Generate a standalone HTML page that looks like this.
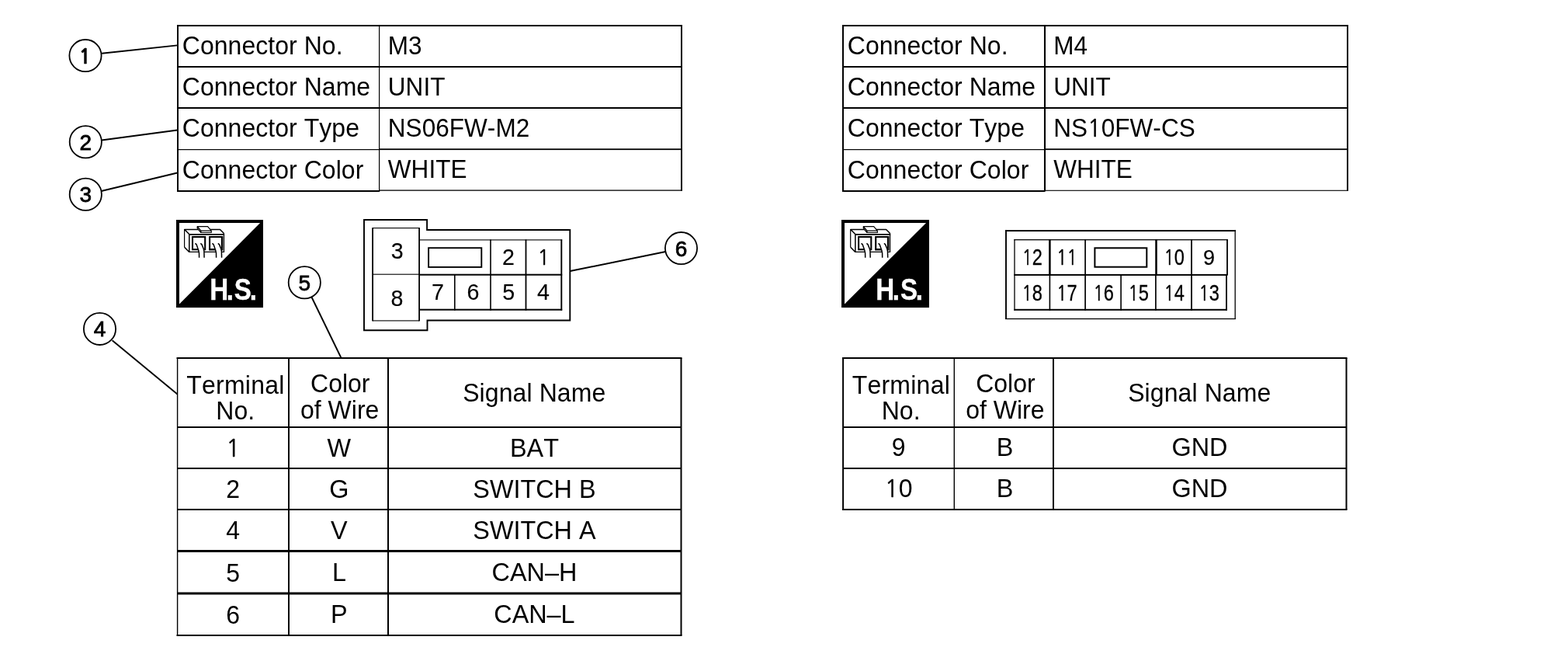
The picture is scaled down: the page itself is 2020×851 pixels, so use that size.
<!DOCTYPE html>
<html lang="en"><head><meta charset="utf-8"><title>Connector M3 / M4</title>
<style>html,body{margin:0;padding:0;background:#fff;}body{width:2020px;height:851px;overflow:hidden;}svg{display:block;will-change:transform;}text{font-kerning:none;stroke:none;white-space:pre;}.n{font-family:"NanumGothic","Liberation Sans",sans-serif;stroke:#000;stroke-width:0.5px;}</style>
</head><body>
<svg width="2020" height="851" viewBox="0 0 2020 851" font-family='"Liberation Sans", sans-serif' fill="#000" stroke="none">
<rect x="0" y="0" width="2020" height="851" fill="#fff"/>
<g stroke="#000" fill="none" stroke-linecap="butt">
<line x1="131.1" y1="68.8" x2="228.5" y2="58.4" stroke-width="1.9" />
<line x1="131" y1="180.5" x2="228.5" y2="167.5" stroke-width="1.9" />
<line x1="130.5" y1="246" x2="228.5" y2="222.5" stroke-width="1.9" />
<line x1="144.6" y1="438.3" x2="228.5" y2="507.5" stroke-width="1.9" />
<line x1="401.2" y1="382" x2="439.6" y2="461" stroke-width="1.9" />
<line x1="734.5" y1="349" x2="857.5" y2="324" stroke-width="1.9" />
</g>
<g stroke="#000">
<rect x="228" y="32.00" width="651.00" height="2" fill="#000" stroke="none"/>
<rect x="228.00" y="33" width="2" height="212.50" fill="#000" stroke="none"/>
<rect x="877.00" y="33" width="2" height="212.50" fill="#000" stroke="none"/>
<rect x="228" y="245.00" width="261.20" height="2" fill="#000" stroke="none"/>
<rect x="488.6" y="244.45" width="390.40" height="1.3" fill="#000" stroke="none"/>
<rect x="229" y="85.00" width="649.00" height="2" fill="#000" stroke="none"/>
<rect x="229" y="138.00" width="649.00" height="2" fill="#000" stroke="none"/>
<rect x="229" y="192.00" width="259.60" height="1.2" fill="#000" stroke="none"/>
<rect x="488.6" y="191.30" width="389.40" height="1.8" fill="#000" stroke="none"/>
<rect x="488.00" y="33" width="1.2" height="212.50" fill="#000" stroke="none"/>
<text transform="translate(234.8,70) scale(1,1.02)" font-size="32" letter-spacing="0.04" >Connector No.</text>
<text transform="translate(499.8,70) scale(0.985,1.02)" font-size="32" letter-spacing="0.04" >M3</text>
<text transform="translate(234.8,123.1) scale(1,1.02)" font-size="32" letter-spacing="0.04" >Connector Name</text>
<text transform="translate(499.8,123.1) scale(0.985,1.02)" font-size="32" letter-spacing="0.04" >UNIT</text>
<text transform="translate(234.8,176.2) scale(1,1.02)" font-size="32" letter-spacing="0.04" >Connector Type</text>
<text transform="translate(499.8,176.1) scale(0.985,1.02)" font-size="32" letter-spacing="0.04" >NS06FW-M2</text>
<text transform="translate(234.8,229.7) scale(1,1.02)" font-size="32" letter-spacing="0.04" >Connector Color</text>
<text transform="translate(499.8,228.9) scale(0.985,1.02)" font-size="32" letter-spacing="0.04" >WHITE</text>
<rect x="1085" y="32.00" width="652.00" height="2" fill="#000" stroke="none"/>
<rect x="1085.00" y="33" width="2" height="212.50" fill="#000" stroke="none"/>
<rect x="1735.00" y="33" width="2" height="212.50" fill="#000" stroke="none"/>
<rect x="1085" y="245.00" width="261.60" height="2" fill="#000" stroke="none"/>
<rect x="1346" y="244.75" width="391.00" height="1.1" fill="#000" stroke="none"/>
<rect x="1086" y="85.00" width="650.00" height="2" fill="#000" stroke="none"/>
<rect x="1086" y="138.00" width="650.00" height="2" fill="#000" stroke="none"/>
<rect x="1086" y="192.00" width="260.00" height="1.2" fill="#000" stroke="none"/>
<rect x="1346" y="191.30" width="390.00" height="1.8" fill="#000" stroke="none"/>
<rect x="1344.95" y="33" width="2.1" height="212.50" fill="#000" stroke="none"/>
<text transform="translate(1091.8,70) scale(1,1.02)" font-size="32" letter-spacing="0.04" >Connector No.</text>
<text transform="translate(1357.2,70) scale(0.985,1.02)" font-size="32" letter-spacing="0.04" >M4</text>
<text transform="translate(1091.8,123.1) scale(1,1.02)" font-size="32" letter-spacing="0.04" >Connector Name</text>
<text transform="translate(1357.2,123.1) scale(0.985,1.02)" font-size="32" letter-spacing="0.04" >UNIT</text>
<text transform="translate(1091.8,176.2) scale(1,1.02)" font-size="32" letter-spacing="0.04" >Connector Type</text>
<text transform="translate(1357.2,176.1) scale(0.985,1.02)" font-size="32" letter-spacing="0.04" >NS<tspan class="n" font-size="0.922em">1</tspan>0FW-CS</text>
<text transform="translate(1091.8,229.7) scale(1,1.02)" font-size="32" letter-spacing="0.04" >Connector Color</text>
<text transform="translate(1357.2,228.9) scale(0.985,1.02)" font-size="32" letter-spacing="0.04" >WHITE</text>
<rect x="227.5" y="460.00" width="651.00" height="2" fill="#000" stroke="none"/>
<rect x="227.5" y="817.00" width="651.00" height="2" fill="#000" stroke="none"/>
<rect x="227.90" y="461" width="1.4" height="357.00" fill="#000" stroke="none"/>
<rect x="876.50" y="461" width="2" height="357.00" fill="#000" stroke="none"/>
<rect x="228.5" y="549.00" width="649.00" height="2" fill="#000" stroke="none"/>
<rect x="228.5" y="602.00" width="649.00" height="2" fill="#000" stroke="none"/>
<rect x="228.5" y="655.00" width="649.00" height="2" fill="#000" stroke="none"/>
<rect x="228.5" y="708.00" width="649.00" height="3" fill="#000" stroke="none"/>
<rect x="228.5" y="762.50" width="649.00" height="3" fill="#000" stroke="none"/>
<rect x="371.00" y="461" width="2" height="357.00" fill="#000" stroke="none"/>
<rect x="499.00" y="461" width="2" height="357.00" fill="#000" stroke="none"/>
<text transform="translate(303.45,506.6) scale(1,1.02)" font-size="32" text-anchor="middle" letter-spacing="0.25" >Terminal</text>
<text transform="translate(303.25,540) scale(1,1.02)" font-size="32" text-anchor="middle" >No.</text>
<text transform="translate(438.3,505.1) scale(1,1.02)" font-size="32" text-anchor="middle" >Color</text>
<text transform="translate(437.7,538.5) scale(1,1.02)" font-size="32" text-anchor="middle" >of Wire</text>
<text transform="translate(688.25,517) scale(1,1.02)" font-size="32" text-anchor="middle" letter-spacing="0.1" >Signal Name</text>
<text transform="translate(300.25,587.7) scale(1,1.03)" font-size="32" text-anchor="middle" ><tspan class="n" font-size="0.922em">1</tspan></text>
<text transform="translate(436.9,587.7) scale(1.012,1.02)" font-size="32" text-anchor="middle" >W</text>
<text transform="translate(688.45,587.7) scale(1.012,1.02)" font-size="32" text-anchor="middle" >BAT</text>
<text transform="translate(300.25,640.6) scale(1,1.03)" font-size="32" text-anchor="middle" >2</text>
<text transform="translate(436.9,640.6) scale(1.012,1.02)" font-size="32" text-anchor="middle" >G</text>
<text transform="translate(688.45,640.6) scale(1.012,1.02)" font-size="32" text-anchor="middle" >SWITCH B</text>
<text transform="translate(300.25,694) scale(1,1.03)" font-size="32" text-anchor="middle" >4</text>
<text transform="translate(436.9,694) scale(1.012,1.02)" font-size="32" text-anchor="middle" >V</text>
<text transform="translate(688.45,694) scale(1.012,1.02)" font-size="32" text-anchor="middle" >SWITCH A</text>
<text transform="translate(300.25,748.5) scale(1,1.03)" font-size="32" text-anchor="middle" >5</text>
<text transform="translate(436.9,748.1) scale(1.012,1.02)" font-size="32" text-anchor="middle" >L</text>
<text transform="translate(688.45,748.1) scale(1.012,1.02)" font-size="32" text-anchor="middle" >CAN–H</text>
<text transform="translate(300.25,802.6999999999999) scale(1,1.03)" font-size="32" text-anchor="middle" >6</text>
<text transform="translate(436.9,802.3) scale(1.012,1.02)" font-size="32" text-anchor="middle" >P</text>
<text transform="translate(688.45,802.3) scale(1.012,1.02)" font-size="32" text-anchor="middle" >CAN–L</text>
<rect x="1085" y="460.00" width="650.50" height="2" fill="#000" stroke="none"/>
<rect x="1085" y="655.00" width="650.50" height="2" fill="#000" stroke="none"/>
<rect x="1085.10" y="461" width="2" height="195.00" fill="#000" stroke="none"/>
<rect x="1733.50" y="461" width="2" height="195.00" fill="#000" stroke="none"/>
<rect x="1086" y="549.00" width="648.50" height="2" fill="#000" stroke="none"/>
<rect x="1086" y="602.00" width="648.50" height="2" fill="#000" stroke="none"/>
<rect x="1228.60" y="461" width="1.4" height="195.00" fill="#000" stroke="none"/>
<rect x="1356.00" y="461" width="2" height="195.00" fill="#000" stroke="none"/>
<text transform="translate(1160.8500000000001,506.6) scale(1,1.02)" font-size="32" text-anchor="middle" letter-spacing="0.25" >Terminal</text>
<text transform="translate(1160.65,540) scale(1,1.02)" font-size="32" text-anchor="middle" >No.</text>
<text transform="translate(1295.45,505.1) scale(1,1.02)" font-size="32" text-anchor="middle" >Color</text>
<text transform="translate(1294.8500000000001,538.5) scale(1,1.02)" font-size="32" text-anchor="middle" >of Wire</text>
<text transform="translate(1545.25,517) scale(1,1.02)" font-size="32" text-anchor="middle" letter-spacing="0.1" >Signal Name</text>
<text transform="translate(1157.65,587.1) scale(1,1.03)" font-size="32" text-anchor="middle" >9</text>
<text transform="translate(1294.65,587.1) scale(1.012,1.02)" font-size="32" text-anchor="middle" >B</text>
<text transform="translate(1545.45,587.1) scale(1.012,1.02)" font-size="32" text-anchor="middle" >GND</text>
<text transform="translate(1157.65,640.0) scale(1,1.03)" font-size="32" text-anchor="middle" ><tspan class="n" font-size="0.922em">1</tspan>0</text>
<text transform="translate(1294.65,640.0) scale(1.012,1.02)" font-size="32" text-anchor="middle" >B</text>
<text transform="translate(1545.45,640.0) scale(1.012,1.02)" font-size="32" text-anchor="middle" >GND</text>
</g>
<g stroke="#000">
<circle cx="110.0" cy="71.6" r="20.6" stroke-width="1.8" fill="#fff"/>
<text x="109.4" y="81.8" font-size="28" text-anchor="middle"><tspan class="n" font-weight="bold" font-size="0.93em" style="stroke-width:0.5px">1</tspan></text>
<circle cx="110.3" cy="182.7" r="20.6" stroke-width="1.8" fill="#fff"/>
<text x="110.3" y="192.7" font-size="28" text-anchor="middle" style="stroke:#000;stroke-width:0.8px">2</text>
<circle cx="110.3" cy="250.3" r="20.6" stroke-width="1.8" fill="#fff"/>
<text x="110.3" y="260.3" font-size="28" text-anchor="middle" style="stroke:#000;stroke-width:0.8px">3</text>
<circle cx="128.5" cy="423.4" r="20.6" stroke-width="1.8" fill="#fff"/>
<text x="128.5" y="433.4" font-size="28" text-anchor="middle" style="stroke:#000;stroke-width:0.8px">4</text>
<circle cx="392.3" cy="363.8" r="20.6" stroke-width="1.8" fill="#fff"/>
<text x="392.3" y="373.8" font-size="28" text-anchor="middle" style="stroke:#000;stroke-width:0.8px">5</text>
<circle cx="877.5" cy="319.6" r="20.6" stroke-width="1.8" fill="#fff"/>
<text x="877.5" y="329.6" font-size="28" text-anchor="middle" style="stroke:#000;stroke-width:0.8px">6</text>
</g>
<g stroke="#000">
<g transform="translate(227,283)">
<rect x="0" y="0" width="112" height="113" fill="#000" stroke="none"/>
<polygon points="4,4 108.1,4 4,108.6" fill="#fff" stroke="none"/>
<g transform="translate(0,0)">
<text transform="translate(0,103.3) scale(0.85,1)" x="50.9 76.2 88 111.4" y="0" font-size="39" font-weight="bold" fill="#fff" style="stroke:#fff;stroke-width:0.4px">H.S.</text>
<g fill="none" stroke-linejoin="round" stroke-linecap="butt">
<path d="M17,18.8 L10.7,12.5 L56.5,12.5 L61.7,17.8" stroke-width="1.5"/>
<path d="M10.6,12.5 L10.6,35.3" stroke-width="1.2"/>
<path d="M10.6,35.3 L16.8,41.5" stroke-width="1.6"/>
<path d="M16.1,18.8 L62.1,18.8" stroke-width="1.8"/>
<path d="M16.8,18.8 L16.8,42" stroke-width="1.5"/>
<path d="M61.5,17.8 L61.5,42" stroke-width="1.2"/>
<path d="M16.8,41.4 L61.5,41.4" stroke-width="1.3"/>
<path d="M27.2,8.7 L40.6,8.7 L45.2,14.1 L45.2,16.5 L31.9,16.5 L27.2,10.8 Z" fill="#fff" stroke-width="1.2"/>
<path d="M27.2,8.7 L31.9,14.1 L45.2,14.1" stroke-width="1.4"/>
<path d="M31.9,14.1 L31.9,16.5" stroke-width="1.2"/>
<rect x="21" y="22" width="16.2" height="16.2" stroke-width="2.1" stroke-linejoin="miter"/>
<path d="M43.1,38.2 L43.1,22 L59,22" stroke-width="2.1" stroke-linejoin="miter" stroke-linecap="butt"/>
<path d="M59.1,21 L59.1,38.2 L42.1,38.2" stroke-width="2.5" stroke-linejoin="miter" stroke-linecap="butt"/>
</g>
<path d="M24.4,30.3 L29.0,40.5 L29.599999999999998,49 L36.1,49 L35.8,38.5 L31.3,30.3 Z" fill="#fff" stroke="none"/>
<path d="M24.4,30.3 L26.0,31.6 L28.799999999999997,39.5 L29.5,43 L29.599999999999998,48.8" fill="none" stroke-width="1.5" stroke-linejoin="round"/>
<path d="M31.3,30.3 L32.9,31.6 L35.3,37.5 L35.9,40.5 L36.1,48.8" fill="none" stroke-width="1.5" stroke-linejoin="round"/>
<path d="M46.4,30.3 L51.0,40.5 L51.6,49 L58.599999999999994,49 L58.3,38.5 L53.8,30.3 Z" fill="#fff" stroke="none"/>
<path d="M46.4,30.3 L48.0,31.6 L50.8,39.5 L51.5,43 L51.6,48.8" fill="none" stroke-width="1.5" stroke-linejoin="round"/>
<path d="M53.8,30.3 L55.4,31.6 L57.8,37.5 L58.4,40.5 L58.599999999999994,48.8" fill="none" stroke-width="1.5" stroke-linejoin="round"/>
</g>
</g>
<g transform="translate(1084,283)">
<rect x="0" y="0" width="113" height="113" fill="#000" stroke="none"/>
<polygon points="4,4 109.1,4 4,108.6" fill="#fff" stroke="none"/>
<g transform="translate(1.1,0)">
<text transform="translate(0,103.3) scale(0.85,1)" x="50.9 76.2 88 111.4" y="0" font-size="39" font-weight="bold" fill="#fff" style="stroke:#fff;stroke-width:0.4px">H.S.</text>
<g fill="none" stroke-linejoin="round" stroke-linecap="butt">
<path d="M17,18.8 L10.7,12.5 L56.5,12.5 L61.7,17.8" stroke-width="1.5"/>
<path d="M10.6,12.5 L10.6,35.3" stroke-width="1.2"/>
<path d="M10.6,35.3 L16.8,41.5" stroke-width="1.6"/>
<path d="M16.1,18.8 L62.1,18.8" stroke-width="1.8"/>
<path d="M16.8,18.8 L16.8,42" stroke-width="1.5"/>
<path d="M61.5,17.8 L61.5,42" stroke-width="1.2"/>
<path d="M16.8,41.4 L61.5,41.4" stroke-width="1.3"/>
<path d="M27.2,8.7 L40.6,8.7 L45.2,14.1 L45.2,16.5 L31.9,16.5 L27.2,10.8 Z" fill="#fff" stroke-width="1.2"/>
<path d="M27.2,8.7 L31.9,14.1 L45.2,14.1" stroke-width="1.4"/>
<path d="M31.9,14.1 L31.9,16.5" stroke-width="1.2"/>
<rect x="21" y="22" width="16.2" height="16.2" stroke-width="2.1" stroke-linejoin="miter"/>
<path d="M43.1,38.2 L43.1,22 L59,22" stroke-width="2.1" stroke-linejoin="miter" stroke-linecap="butt"/>
<path d="M59.1,21 L59.1,38.2 L42.1,38.2" stroke-width="2.5" stroke-linejoin="miter" stroke-linecap="butt"/>
</g>
<path d="M24.4,30.3 L29.0,40.5 L29.599999999999998,49 L36.1,49 L35.8,38.5 L31.3,30.3 Z" fill="#fff" stroke="none"/>
<path d="M24.4,30.3 L26.0,31.6 L28.799999999999997,39.5 L29.5,43 L29.599999999999998,48.8" fill="none" stroke-width="1.5" stroke-linejoin="round"/>
<path d="M31.3,30.3 L32.9,31.6 L35.3,37.5 L35.9,40.5 L36.1,48.8" fill="none" stroke-width="1.5" stroke-linejoin="round"/>
<path d="M46.4,30.3 L51.0,40.5 L51.6,49 L58.599999999999994,49 L58.3,38.5 L53.8,30.3 Z" fill="#fff" stroke="none"/>
<path d="M46.4,30.3 L48.0,31.6 L50.8,39.5 L51.5,43 L51.6,48.8" fill="none" stroke-width="1.5" stroke-linejoin="round"/>
<path d="M53.8,30.3 L55.4,31.6 L57.8,37.5 L58.4,40.5 L58.599999999999994,48.8" fill="none" stroke-width="1.5" stroke-linejoin="round"/>
</g>
</g>
</g>
<g stroke="#000" fill="none">
<path d="M469,283 L550.1,283 L550.1,296 L734.3,296 L734.3,412.5 L550.5,412.5 L550.5,425.2 L469,425.2 Z" stroke-width="1.9"/>
</g>
<rect x="479.20" y="293.1" width="1.8" height="120.30" fill="#000" stroke="none"/>
<rect x="539.20" y="293.1" width="1.8" height="120.30" fill="#000" stroke="none"/>
<rect x="480.1" y="293.05" width="60.00" height="1.1" fill="#000" stroke="none"/>
<rect x="480.1" y="412.35" width="60.00" height="1.1" fill="#000" stroke="none"/>
<rect x="480.1" y="352.65" width="60.00" height="1.1" fill="#000" stroke="none"/>
<rect x="540.1" y="308.35" width="184.10" height="1.1" fill="#000" stroke="none"/>
<rect x="540.1" y="352.70" width="184.10" height="2.0" fill="#000" stroke="none"/>
<rect x="540.1" y="397.70" width="184.10" height="2.0" fill="#000" stroke="none"/>
<rect x="722.35" y="308.4" width="1.9" height="91.30" fill="#000" stroke="none"/>
<rect x="631.20" y="308.4" width="1.6" height="91.30" fill="#000" stroke="none"/>
<rect x="676.60" y="308.4" width="1.8" height="91.30" fill="#000" stroke="none"/>
<rect x="585.00" y="353.7" width="1.6" height="46.00" fill="#000" stroke="none"/>
<g stroke="#000" fill="none">
<rect x="552.1" y="319.2" width="68.20" height="24.70" stroke-width="1.9" fill="none"/>
</g>
<text transform="translate(511.8,332.6) scale(0.97,1.0)" font-size="29.5" text-anchor="middle" style="stroke:#000;stroke-width:0.15px">3</text>
<text transform="translate(511.5,393.5) scale(0.97,1.0)" font-size="29.5" text-anchor="middle" style="stroke:#000;stroke-width:0.15px">8</text>
<text transform="translate(655,340.5) scale(0.97,1.0)" font-size="29.5" text-anchor="middle" style="stroke:#000;stroke-width:0.15px">2</text>
<text transform="translate(700.3,340.5) scale(0.97,1.0)" font-size="29.5" text-anchor="middle" style="stroke:#000;stroke-width:0.15px"><tspan class="n" font-size="0.922em">1</tspan></text>
<text transform="translate(563.9,385.9) scale(0.97,1.0)" font-size="29.5" text-anchor="middle" style="stroke:#000;stroke-width:0.15px">7</text>
<text transform="translate(609.4,385.9) scale(0.97,1.0)" font-size="29.5" text-anchor="middle" style="stroke:#000;stroke-width:0.15px">6</text>
<text transform="translate(655.3,385.9) scale(0.97,1.0)" font-size="29.5" text-anchor="middle" style="stroke:#000;stroke-width:0.15px">5</text>
<text transform="translate(700,385.9) scale(0.97,1.0)" font-size="29.5" text-anchor="middle" style="stroke:#000;stroke-width:0.15px">4</text>
<rect x="1295" y="296.15" width="297.00" height="1.9" fill="#000" stroke="none"/>
<rect x="1295.05" y="296.2" width="1.9" height="114.80" fill="#000" stroke="none"/>
<rect x="1590.55" y="296.2" width="1.3" height="114.80" fill="#000" stroke="none"/>
<rect x="1295" y="409.85" width="296.80" height="1.3" fill="#000" stroke="none"/>
<rect x="1306.4" y="308.05" width="275.20" height="1.3" fill="#000" stroke="none"/>
<rect x="1306.35" y="308.1" width="1.3" height="91.70" fill="#000" stroke="none"/>
<rect x="1306.4" y="352.90" width="275.20" height="2.0" fill="#000" stroke="none"/>
<rect x="1306.4" y="397.80" width="274.20" height="2.0" fill="#000" stroke="none"/>
<rect x="1580.10" y="308.1" width="1.8" height="45.90" fill="#000" stroke="none"/>
<rect x="1579.10" y="354" width="1.8" height="45.80" fill="#000" stroke="none"/>
<rect x="1351.15" y="308.1" width="2.5" height="45.90" fill="#000" stroke="none"/>
<rect x="1351.60" y="354" width="1.6" height="45.80" fill="#000" stroke="none"/>
<rect x="1397.25" y="308.1" width="1.7" height="91.70" fill="#000" stroke="none"/>
<rect x="1443.30" y="354" width="1.6" height="45.80" fill="#000" stroke="none"/>
<rect x="1488.25" y="308.1" width="2.5" height="45.90" fill="#000" stroke="none"/>
<rect x="1488.05" y="354" width="1.7" height="45.80" fill="#000" stroke="none"/>
<rect x="1534.10" y="308.1" width="1.8" height="91.70" fill="#000" stroke="none"/>
<g stroke="#000" fill="none">
<rect x="1410.4" y="319.3" width="66.90" height="24.40" stroke-width="2.0" fill="none"/>
</g>
<text transform="translate(1329.8,341) scale(0.8,1)" font-size="29.5" text-anchor="middle" style="stroke:#000;stroke-width:0.3px"><tspan class="n" font-size="0.922em">1</tspan>2</text>
<text transform="translate(1374.5,341) scale(0.8,1)" font-size="29.5" text-anchor="middle" style="stroke:#000;stroke-width:0.3px"><tspan class="n" font-size="0.922em">1</tspan><tspan class="n" font-size="0.922em">1</tspan></text>
<text transform="translate(1512.7,341) scale(0.8,1)" font-size="29.5" text-anchor="middle" style="stroke:#000;stroke-width:0.3px"><tspan class="n" font-size="0.922em">1</tspan>0</text>
<text transform="translate(1557.5,341) scale(0.95,1)" font-size="28.5" text-anchor="middle" style="stroke:#000;stroke-width:0.2px">9</text>
<text transform="translate(1329.6,387) scale(0.8,1)" font-size="29.5" text-anchor="middle" style="stroke:#000;stroke-width:0.3px"><tspan class="n" font-size="0.922em">1</tspan>8</text>
<text transform="translate(1374.5,387) scale(0.8,1)" font-size="29.5" text-anchor="middle" style="stroke:#000;stroke-width:0.3px"><tspan class="n" font-size="0.922em">1</tspan>7</text>
<text transform="translate(1421.7,387) scale(0.8,1)" font-size="29.5" text-anchor="middle" style="stroke:#000;stroke-width:0.3px"><tspan class="n" font-size="0.922em">1</tspan>6</text>
<text transform="translate(1466.7,387) scale(0.8,1)" font-size="29.5" text-anchor="middle" style="stroke:#000;stroke-width:0.3px"><tspan class="n" font-size="0.922em">1</tspan>5</text>
<text transform="translate(1512.7,387) scale(0.8,1)" font-size="29.5" text-anchor="middle" style="stroke:#000;stroke-width:0.3px"><tspan class="n" font-size="0.922em">1</tspan>4</text>
<text transform="translate(1557.7,387) scale(0.8,1)" font-size="29.5" text-anchor="middle" style="stroke:#000;stroke-width:0.3px"><tspan class="n" font-size="0.922em">1</tspan>3</text>
</svg>
</body></html>
